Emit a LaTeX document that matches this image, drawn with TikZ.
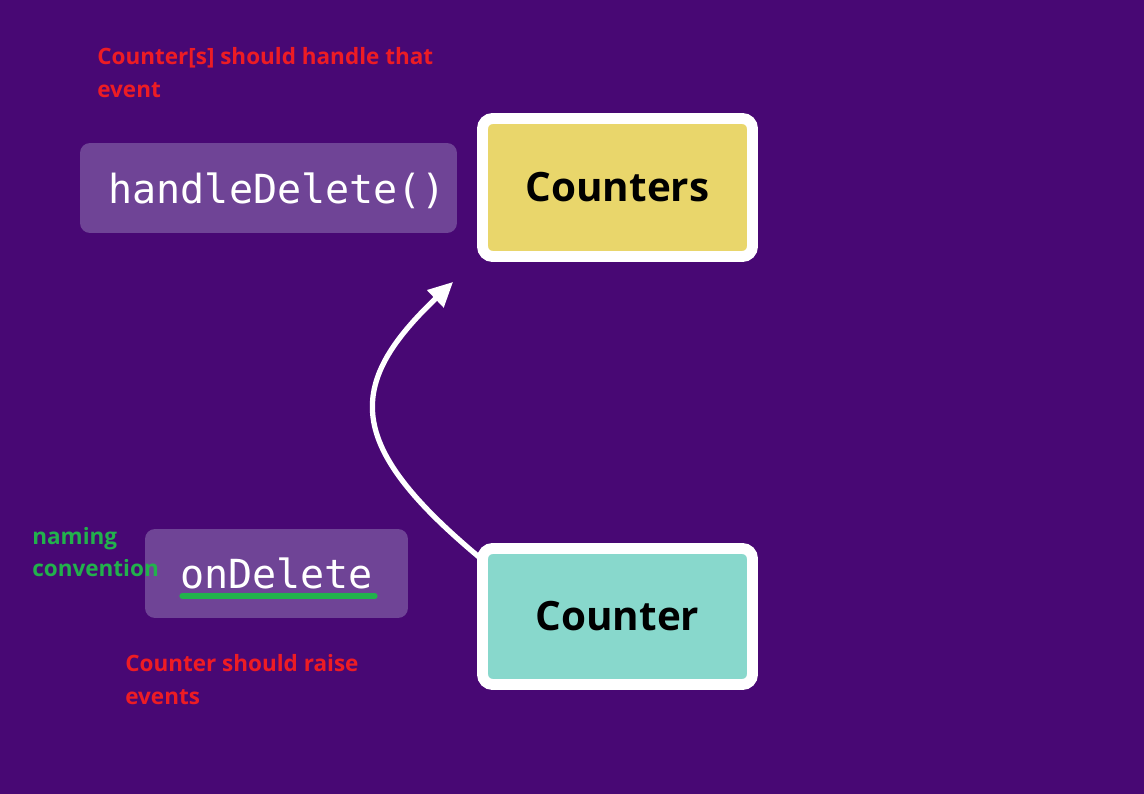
\documentclass[tikz,border=0pt]{standalone}
\usepackage{fontspec}
\usetikzlibrary{arrows.meta}
\newfontfamily\notefont{Open Sans}
\newfontfamily\codefont{DejaVu Sans Mono}
\newfontfamily\boxfont{Open Sans}
\definecolor{bgpurple}{RGB}{72,8,116}
\definecolor{codebg}{RGB}{111,68,150}
\definecolor{noteRed}{RGB}{237,28,36}
\definecolor{noteGreen}{RGB}{34,177,76}
\definecolor{compYellow}{RGB}{233,214,107}
\definecolor{compTeal}{RGB}{136,216,204}
\tikzset{
  comp/.style={draw=white, line width=6.2pt, rounded corners=0.2cm, minimum width=5.4cm, font=\boxfont\bfseries\fontsize{23}{27}\selectfont},
  code/.style={fill=codebg, rounded corners=0.2cm, font=\codefont\fontsize{22.8}{26}\selectfont, text=white},
  note/.style={anchor=west, inner sep=0pt, align=left, font=\notefont\bfseries\fontsize{12.8}{18.7}\selectfont},
  flow/.style={white, line width=3pt, -{Triangle[length=14pt,width=13pt]}}
}
\begin{document}
\begin{tikzpicture}[x=0.02cm, y=-0.02cm]
  \fill[bgpurple] (0,0) rectangle (1144,794);
  \node[comp, fill=compYellow, minimum height=2.76cm] (counters) at (617.5,187.5) {Counters};
  \node[comp, fill=compTeal, minimum height=2.72cm] (counter) at (617.5,616.5) {Counter};
  \node[code, minimum width=7.54cm, minimum height=1.8cm, text depth=0pt] (handle) at (268.5,188) {\hspace{10pt}handleDelete()};
  \node[code, minimum width=5.26cm, minimum height=1.78cm] (ondel) at (276.5,573.5) {onDelete};
  \draw[noteGreen, line width=3pt, line cap=round] (182,596) -- (375,596);
\node[note, text=noteRed] (handlenote) at (97,72.5) {Counter[s] should handle that\\event};
\node[note, text=noteGreen] (namenote) at (32,552) {naming\\convention};
\node[note, text=noteRed] (raisenote) at (125,679.5) {Counter should raise\\events};
  \draw[flow] ([shift={(2,14)}]counter.north west) .. controls (345,445) and (345,385) .. ([shift={(-24,20)}]counters.south west);
\end{tikzpicture}
\end{document}
